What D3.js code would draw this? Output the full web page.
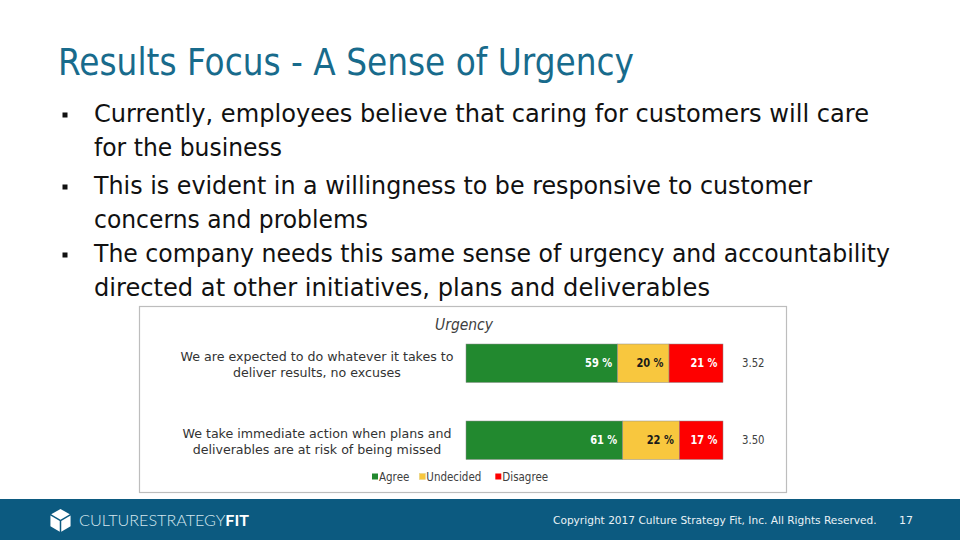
<!DOCTYPE html>
<html>
<head>
<meta charset="utf-8">
<script src="https://cdn.jsdelivr.net/npm/d3@7"></script>
<style>
  html, body { margin: 0; padding: 0; background: #fff; }
  svg { display: block; }
</style>
</head>
<body>
<svg id="slide" width="960" height="540"></svg>
<script>
// ---- data ----
const slideTitle = 'Results Focus - A Sense of Urgency';
const bullets = [
  ['Currently, employees believe that caring for customers will care', 'for the business'],
  ['This is evident in a willingness to be responsive to customer', 'concerns and problems'],
  ['The company needs this same sense of urgency and accountability', 'directed at other initiatives, plans and deliverables']
];
const chartTitle = 'Urgency';
const categories = [
  'We are expected to do whatever it takes to\ndeliver results, no excuses',
  'We take immediate action when plans and\ndeliverables are at risk of being missed'
];
const seriesNames = ['Agree', 'Undecided', 'Disagree'];
const agree = [59, 61];
const undecided = [20, 22];
const disagree = [21, 17];
const means = [3.52, 3.50];
const seriesColors = ['#22892f', '#f8c73e', '#fe0000'];
const labelColors = ['#ffffff', '#1a1a1a', '#ffffff'];
const footerText = 'Copyright 2017 Culture Strategy Fit, Inc. All Rights Reserved.';
const pageNumber = '17';

// layout: measured widths of the bullet lines in the slide
const bulletLineWidths = [[775, 188], [718, 274], [796, 616]];

const svg = d3.select('#slide');
const FONT = 'DejaVu Sans, Verdana, sans-serif';

// squeeze text horizontally (DejaVu is wider than the original Tahoma)
function squeeze(sel, k) {
  sel.each(function() {
    const w = this.getComputedTextLength();
    d3.select(this).attr('textLength', w * k).attr('lengthAdjust', 'spacingAndGlyphs');
  });
}
function fitK(node, target) {
  return target / node.getComputedTextLength();
}

// ---- title ----
const title = svg.append('text')
    .attr('x', 58).attr('y', 75)
    .style('font-family', FONT).style('font-size', '37px')
    .style('fill', '#186b8c')
    .text(slideTitle);
squeeze(title, fitK(title.node(), 576));

// ---- bullets ----
const bulletBase = [122, 194, 262];
const lineGap = 33.5;
const bulletG = svg.append('g');
bullets.forEach((lines, i) => {
  bulletG.append('rect')
      .attr('x', 62.5).attr('y', bulletBase[i] - 9.5)
      .attr('width', 5).attr('height', 5)
      .style('fill', '#111');
  lines.forEach((ln, j) => {
    const t = bulletG.append('text')
        .attr('x', 94).attr('y', bulletBase[i] + j * lineGap)
        .style('font-family', FONT).style('font-size', '25px')
        .style('fill', '#111')
        .text(ln);
    t.attr('textLength', bulletLineWidths[i][j]).attr('lengthAdjust', 'spacingAndGlyphs');
  });
});

// ---- chart box ----
svg.append('rect')
    .attr('x', 139.5).attr('y', 306.5)
    .attr('width', 647).attr('height', 186)
    .style('fill', '#fff').style('stroke', '#bdbdbd').style('stroke-width', 1.2);

const ct = svg.append('text')
    .attr('x', 464).attr('y', 330)
    .attr('text-anchor', 'middle')
    .style('font-family', FONT).style('font-size', '15px')
    .style('font-style', 'italic').style('fill', '#404040')
    .text(chartTitle);
squeeze(ct, fitK(ct.node(), 58));

const x = d3.scaleLinear().domain([0, 100]).range([466, 723]);
const y = d3.scaleBand().domain(categories).range([305.5, 498]).paddingInner(0.5).paddingOuter(0.5);

const rows = categories.map((c, i) => ({
  cat: c, Agree: agree[i], Undecided: undecided[i], Disagree: disagree[i]
}));
const stacked = d3.stack().keys(seriesNames)(rows);

const seg = svg.append('g').selectAll('g')
    .data(stacked)
    .join('g');

seg.selectAll('rect')
    .data(s => s.map(d => Object.assign({}, d, { key: s.key, idx: s.index })))
    .join('rect')
    .attr('x', d => x(d[0]))
    .attr('y', d => y(d.data.cat))
    .attr('width', d => x(d[1]) - x(d[0]))
    .attr('height', y.bandwidth())
    .style('fill', d => seriesColors[d.idx])
    .style('stroke', '#8a8a8a').style('stroke-width', 0.5);

const pct = seg.selectAll('text')
    .data(s => s.map(d => Object.assign({}, d, { key: s.key, idx: s.index })))
    .join('text')
    .attr('x', d => x(d[1]) - 5.5)
    .attr('y', d => y(d.data.cat) + y.bandwidth() / 2)
    .attr('dy', '0.36em')
    .attr('text-anchor', 'end')
    .style('font-family', FONT).style('font-size', '11.5px').style('font-weight', 'bold')
    .style('fill', d => labelColors[d.idx])
    .text(d => (d[1] - d[0]) + ' %');
squeeze(pct, 0.86);

// category labels
const catText = svg.append('g').selectAll('text')
    .data(categories)
    .join('text')
    .attr('text-anchor', 'middle')
    .attr('x', 317)
    .attr('y', d => y(d) + y.bandwidth() / 2)
    .style('font-family', FONT).style('font-size', '12.5px')
    .style('fill', '#333');
catText.each(function(d) {
  const parts = d.split('\n');
  d3.select(this).selectAll('tspan')
      .data(parts)
      .join('tspan')
      .attr('x', 317)
      .attr('dy', (p, j) => j === 0 ? '-0.22em' : '1.3em')
      .text(p => p);
});
const tsp = catText.selectAll('tspan');
const tk = 273 / tsp.node().getComputedTextLength();
tsp.each(function() {
  const w = this.getComputedTextLength();
  d3.select(this).attr('textLength', w * tk).attr('lengthAdjust', 'spacingAndGlyphs');
});

// mean scores
const meanText = svg.append('g').selectAll('text')
    .data(means)
    .join('text')
    .attr('x', 742)
    .attr('y', (d, i) => y(categories[i]) + y.bandwidth() / 2)
    .attr('dy', '0.36em')
    .style('font-family', FONT).style('font-size', '11.5px')
    .style('fill', '#404040')
    .text(d => d3.format('.2f')(d));
squeeze(meanText, 0.88);

// legend
const legend = svg.append('g');
const legendGap = [10, 14, 0];
let lx = 0;
seriesNames.forEach((name, i) => {
  const item = legend.append('g').attr('transform', `translate(${lx},0)`);
  item.append('rect')
      .attr('x', 0).attr('y', -3.5).attr('width', 6).attr('height', 6)
      .style('fill', seriesColors[i])
      .style('stroke', i === 1 ? '#e6d48a' : 'none').style('stroke-width', 0.6);
  const t = item.append('text')
      .attr('x', 7).attr('y', 0).attr('dy', '0.36em')
      .style('font-family', FONT).style('font-size', '12px')
      .style('fill', '#404040')
      .text(name);
  squeeze(t, 0.86);
  lx += 7 + +t.attr('textLength') + legendGap[i];
});
legend.attr('transform', `translate(${372},477)`);

// ---- footer ----
svg.append('rect')
    .attr('x', 0).attr('y', 499).attr('width', 960).attr('height', 41)
    .style('fill', '#0c5a80');

const foot = svg.append('text')
    .attr('x', 553).attr('y', 524)
    .style('font-family', FONT).style('font-size', '12px')
    .style('fill', '#eaf2f6')
    .text(footerText);
foot.style('font-size', (12 * fitK(foot.node(), 324)) + 'px');

svg.append('text')
    .attr('x', 906).attr('y', 524)
    .attr('text-anchor', 'middle')
    .style('font-family', FONT).style('font-size', '11px')
    .style('fill', '#eaf2f6')
    .text(pageNumber);

// logo: cube mark + word mark
const cx = 60.5, cy = 520.5, r = 12.5;
const pt = a => [cx + r * Math.cos(a * Math.PI / 180), cy + r * Math.sin(a * Math.PI / 180)];
const c0 = [cx, cy];
const faces = [
  [pt(-90), pt(-30), c0, pt(-150)],
  [pt(-150), c0, pt(90), pt(150)],
  [c0, pt(-30), pt(30), pt(90)]
];
svg.append('g').selectAll('path')
    .data(faces)
    .join('path')
    .attr('d', f => {
      const mx = d3.mean(f, p => p[0]), my = d3.mean(f, p => p[1]);
      const s = f.map(p => [mx + (p[0] - mx) * 0.86, my + (p[1] - my) * 0.86]);
      return 'M' + s.map(p => p.join(',')).join('L') + 'Z';
    })
    .style('fill', '#ffffff');

const word = svg.append('text')
    .attr('x', 79).attr('y', 525.5)
    .style('font-family', 'Lato, DejaVu Sans, sans-serif').style('font-size', '16px');
word.append('tspan').style('font-weight', 300).style('fill', '#d5e6ee').text('CULTURESTRATEGY');
word.append('tspan').style('font-weight', 'bold').style('fill', '#ffffff').text('FIT');
word.attr('textLength', 170).attr('lengthAdjust', 'spacingAndGlyphs');
</script>
</body>
</html>
